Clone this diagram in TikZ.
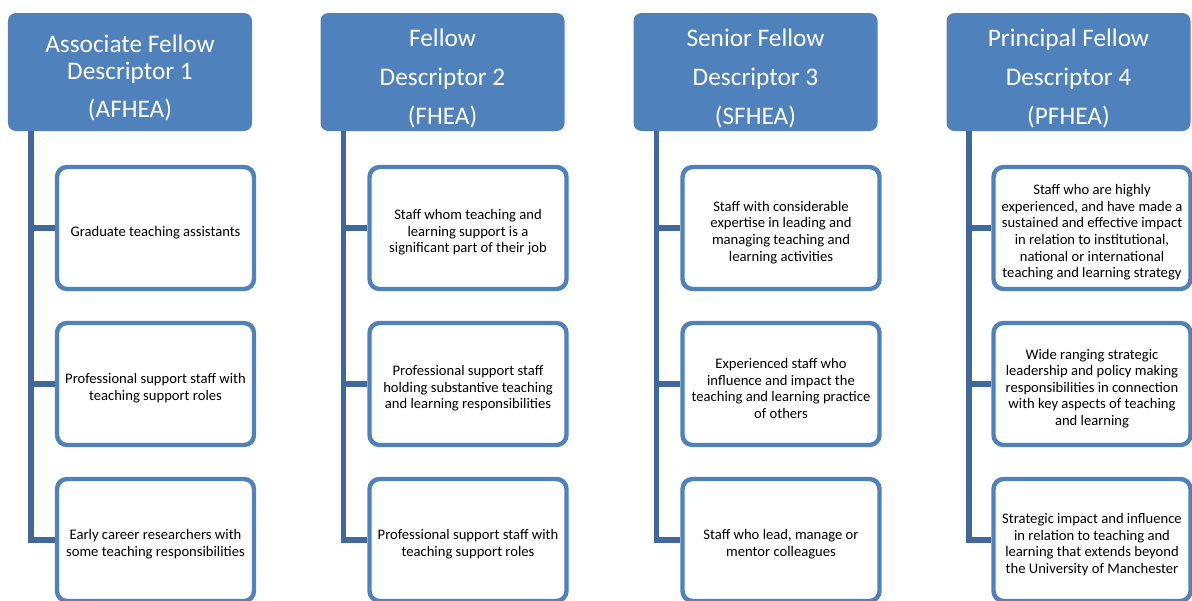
\documentclass[tikz,border=0pt]{standalone}
\usepackage{fontspec}
\setmainfont{Carlito}
\definecolor{hdblue}{HTML}{4F81BD}
\definecolor{spblue}{HTML}{41689C}
\newcommand{\hdstrut}{\rule{0pt}{21.5pt}}
\newcommand{\itstrut}{\rule{0pt}{13.5pt}}
\tikzset{
  header/.style={fill=hdblue, rounded corners=2mm, text=white, align=center,
    minimum width=61mm, minimum height=29.5mm, inner sep=0pt,
    font=\fontsize{18}{19.2}\selectfont},
  item/.style={draw=hdblue, line width=1.1mm, rounded corners=2.5mm, fill=white,
    align=center, minimum width=49.25mm, minimum height=30.5mm, inner sep=0pt,
    font=\fontsize{10.4}{11.8}\selectfont},
  spine/.style={draw=spblue, line width=1.3mm}
}
\begin{document}
\begin{tikzpicture}[x=0.25mm,y=-0.25mm]
      \useasboundingbox (0,0) rectangle (1192,600);

      \node[header] (AFN) at (130,72)    {\hdstrut Associate Fellow\\Descriptor 1\\[8pt](AFHEA)};
      \node[header] (FN)  at (442.5,72)  {\hdstrut Fellow\\[8.5pt]Descriptor 2\\[8.5pt](FHEA)};
      \node[header] (SFN) at (755.5,72)  {\hdstrut Senior Fellow\\[8.5pt]Descriptor 3\\[8.5pt](SFHEA)};
      \node[header] (PFN) at (1068.5,72) {\hdstrut Principal Fellow\\[8.5pt]Descriptor 4\\[8.5pt](PFHEA)};

      \coordinate (AFtop) at (31,131);
      \coordinate (Ftop)  at (343.5,131);
      \coordinate (SFtop) at (656.5,131);
      \coordinate (PFtop) at (969,131);

      \node[item] (AFone)   at (155.5,228) {\itstrut Graduate teaching assistants};
      \node[item] (AFtwo)   at (155.5,384) {\itstrut Professional support staff with\\teaching support roles};
      \node[item] (AFthree) at (155.5,540) {\itstrut Early career researchers with\\some teaching responsibilities};

      \node[item] (Fone)    at (468,228)   {\itstrut Staff whom teaching and\\learning support is a\\significant part of their job};
      \node[item] (Ftwo)    at (468,384)   {\itstrut Professional support staff\\holding substantive teaching\\and learning responsibilities};
      \node[item] (Fthree)  at (468,540)   {\itstrut Professional support staff with\\teaching support roles};

      \node[item] (SFone)   at (781,228)   {\itstrut Staff with considerable\\expertise in leading and\\managing teaching and\\learning activities};
      \node[item] (SFtwo)   at (781,384)   {\itstrut Experienced staff who\\influence and impact the\\teaching and learning practice\\of others};
      \node[item] (SFthree) at (781,540)   {\itstrut Staff who lead, manage or\\mentor colleagues};

      \node[item] (PFone)   at (1092,228)  {\itstrut Staff who are highly\\experienced, and have made a\\sustained and effective impact\\in relation to institutional,\\national or international\\teaching and learning strategy};
      \node[item] (PFtwo)   at (1092,384)  {\itstrut Wide ranging strategic\\leadership and policy making\\responsibilities in connection\\with key aspects of teaching\\and learning};
      \node[item] (PFthree) at (1092,540)  {\itstrut Strategic impact and influence\\in relation to teaching and\\learning that extends beyond\\the University of Manchester};

      \draw[spine] (AFtop) |- (AFthree.west);
      \draw[spine] (AFtop |- AFone.west) -- (AFone.west);
      \draw[spine] (AFtop |- AFtwo.west) -- (AFtwo.west);

      \draw[spine] (Ftop) |- (Fthree.west);
      \draw[spine] (Ftop |- Fone.west) -- (Fone.west);
      \draw[spine] (Ftop |- Ftwo.west) -- (Ftwo.west);

      \draw[spine] (SFtop) |- (SFthree.west);
      \draw[spine] (SFtop |- SFone.west) -- (SFone.west);
      \draw[spine] (SFtop |- SFtwo.west) -- (SFtwo.west);

      \draw[spine] (PFtop) |- (PFthree.west);
      \draw[spine] (PFtop |- PFone.west) -- (PFone.west);
      \draw[spine] (PFtop |- PFtwo.west) -- (PFtwo.west);
    \end{tikzpicture}
\end{document}
